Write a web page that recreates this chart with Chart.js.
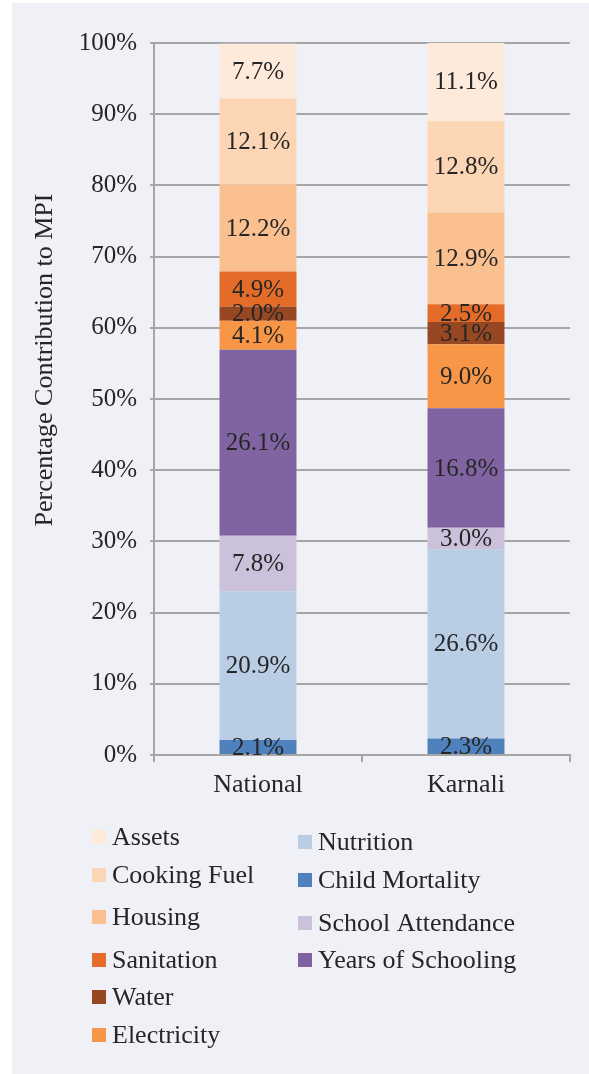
<!DOCTYPE html>
<html>
<head>
<meta charset="utf-8">
<title>Percentage Contribution to MPI</title>
<script src="https://cdn.jsdelivr.net/npm/chart.js@4.4.0/dist/chart.umd.min.js"></script>
<style>
    html, body { margin: 0; padding: 0; background: #ffffff; }
    #panel {
        position: absolute;
        left: 12px; top: 3px;
        width: 577px; height: 1071px;
        background: #f0f1f7;
    }
    #mpiChart { position: absolute; left: 0; top: 0; }
</style>
</head>
<body>
<div id="panel"></div>
<canvas id="mpiChart" width="589" height="1074"></canvas>
<script>
// Regiones y contribución de cada indicador (en %), de abajo hacia arriba
const regions = ['National', 'Karnali'];
const indicators = ['Child Mortality', 'Nutrition', 'School Attendance', 'Years of Schooling',
    'Electricity', 'Water', 'Sanitation', 'Housing', 'Cooking Fuel', 'Assets'];
const nationalValues = [2.1, 20.9, 7.8, 26.1, 4.1, 2.0, 4.9, 12.2, 12.1, 7.7];
const karnaliValues = [2.3, 26.6, 3.0, 16.8, 9.0, 3.1, 2.5, 12.9, 12.8, 11.1];
const yTicks = [0, 10, 20, 30, 40, 50, 60, 70, 80, 90, 100];
const yTitle = 'Percentage Contribution to MPI';

const legendLeft = ['Assets', 'Cooking Fuel', 'Housing', 'Sanitation', 'Water', 'Electricity'];
const legendRight = ['Nutrition', 'Child Mortality', 'School Attendance', 'Years of Schooling'];

const colors = {
    'Child Mortality': '#4f81bd',
    'Nutrition': '#b9cde5',
    'School Attendance': '#ccc1da',
    'Years of Schooling': '#8064a2',
    'Electricity': '#f79646',
    'Water': '#984723',
    'Sanitation': '#e46c28',
    'Housing': '#fac090',
    'Cooking Fuel': '#fcd5b5',
    'Assets': '#fdeada'
};

const FONT = '"Liberation Serif", "Times New Roman", serif';
const TEXT = '#262626';
const GRID = '#a6a6a6';

// Etiquetas de valor centradas en cada segmento
const segmentLabels = {
    id: 'segmentLabels',
    afterDatasetsDraw(chart) {
        const ctx = chart.ctx;
        ctx.save();
        ctx.font = '25px ' + FONT;
        ctx.fillStyle = TEXT;
        ctx.textAlign = 'center';
        ctx.textBaseline = 'middle';
        chart.data.datasets.forEach((ds, i) => {
            const meta = chart.getDatasetMeta(i);
            meta.data.forEach((bar, j) => {
                const v = ds.data[j];
                ctx.fillText(v.toFixed(1) + '%', bar.x, (bar.y + bar.base) / 2 + 1);
            });
        });
        ctx.restore();
    }
};

// Título vertical del eje Y (algo por encima del centro del área)
const yAxisTitle = {
    id: 'yAxisTitle',
    afterDraw(chart) {
        const ctx = chart.ctx;
        ctx.save();
        ctx.translate(52, 360);
        ctx.rotate(-Math.PI / 2);
        ctx.font = '26px ' + FONT;
        ctx.fillStyle = TEXT;
        ctx.textAlign = 'center';
        ctx.textBaseline = 'alphabetic';
        ctx.fillText(yTitle, 0, 0);
        ctx.restore();
    }
};

// Leyenda en dos columnas debajo del gráfico
const twoColumnLegend = {
    id: 'twoColumnLegend',
    afterDraw(chart) {
        const ctx = chart.ctx;
        const leftRows = [837, 875, 917, 960, 997, 1035];
        const rightRows = [842, 880, 923, 960];
        ctx.save();
        ctx.font = '26px ' + FONT;
        ctx.textBaseline = 'middle';
        const drawItem = (label, x, y) => {
            ctx.fillStyle = colors[label];
            ctx.fillRect(x, y - 7, 14, 14);
            ctx.fillStyle = TEXT;
            ctx.fillText(label, x + 20, y + 1);
        };
        legendLeft.forEach((label, i) => drawItem(label, 92, leftRows[i]));
        legendRight.forEach((label, i) => drawItem(label, 298, rightRows[i]));
        ctx.restore();
    }
};

const datasets = indicators.map((name, i) => ({
    label: name,
    data: [nationalValues[i], karnaliValues[i]],
    backgroundColor: colors[name],
    borderWidth: 0,
    categoryPercentage: 1,
    barPercentage: 0.37
}));

new Chart(document.getElementById('mpiChart'), {
    type: 'bar',
    data: { labels: regions, datasets: datasets },
    options: {
        responsive: false,
        animation: false,
        layout: { padding: { left: 0, top: 43, right: 19, bottom: 279 } },
        plugins: {
            legend: { display: false },
            tooltip: { enabled: false }
        },
        scales: {
            x: {
                stacked: true,
                afterFit(scale) { scale.height = 40; },
                grid: {
                    offset: true,
                    drawOnChartArea: false,
                    drawTicks: true,
                    tickLength: 7,
                    color: GRID,
                    lineWidth: 2
                },
                border: { color: GRID, width: 2 },
                ticks: {
                    color: TEXT,
                    padding: 8,
                    font: { family: FONT, size: 26 }
                }
            },
            y: {
                stacked: true,
                min: 0,
                max: 100,
                afterFit(scale) { scale.width = 154; },
                afterBuildTicks(scale) {
                    scale.ticks = yTicks.map(v => ({ value: v }));
                },
                grid: {
                    color: GRID,
                    lineWidth: 2,
                    tickLength: 4
                },
                border: { color: GRID, width: 2 },
                ticks: {
                    color: TEXT,
                    padding: 13,
                    font: { family: FONT, size: 25 },
                    callback: v => v + '%'
                }
            }
        }
    },
    plugins: [segmentLabels, yAxisTitle, twoColumnLegend]
});
</script>
</body>
</html>
